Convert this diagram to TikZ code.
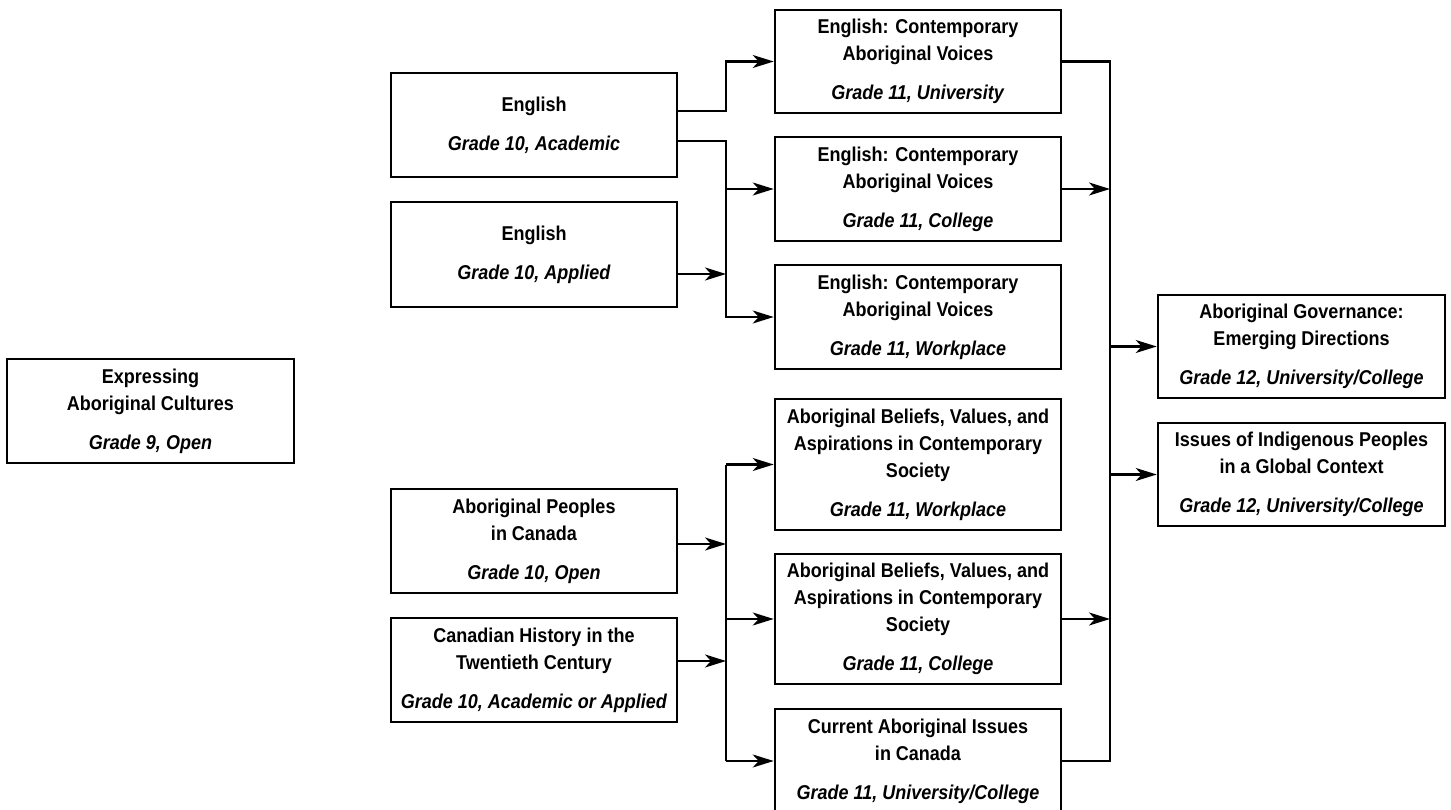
\documentclass[tikz,border=0pt]{standalone}
\usepackage{fontspec}
\setmainfont{Liberation Sans}[FakeStretch=0.9]
\usetikzlibrary{arrows.meta}
\begin{document}
\begin{tikzpicture}[x=1pt,y=-1pt,
  box/.style={draw, line width=2.6pt, align=center, inner sep=0pt, anchor=center,
    font=\fontsize{20}{27}\selectfont\bfseries},
  colA/.style={box, minimum width=286pt},
  conn/.style={line width=2.3pt},
  arr/.style={line width=2.3pt, -{Stealth[length=21pt,width=13pt,inset=6pt]}}]
\useasboundingbox (0,0) rectangle (1451,810);
\node[box, minimum width=287pt, minimum height=104pt] (exp) at (150.5,411)
  {Expressing\\Aboriginal Cultures\\[12pt]\textit{Grade 9, Open}};
\node[colA, minimum height=104pt] (engA) at (534,125)
  {English\\[12pt]\textit{Grade 10, Academic}};
\node[colA, minimum height=105pt] (engP) at (534,254.5)
  {English\\[12pt]\textit{Grade 10, Applied}};
\node[colA, minimum height=104pt] (abp) at (534,541)
  {Aboriginal Peoples\\in Canada\\[12pt]\textit{Grade 10, Open}};
\node[colA, minimum height=104pt] (chist) at (534,670)
  {Canadian History in the\\Twentieth Century\\[12pt]\textit{Grade 10, Academic or Applied}};
\node[colA, minimum height=103pt] (eavU) at (918,61.5)
  {English: Contemporary\\Aboriginal Voices\\[12pt]\textit{Grade 11, University}};
\node[colA, minimum height=104pt] (eavC) at (918,189)
  {English: Contemporary\\Aboriginal Voices\\[12pt]\textit{Grade 11, College}};
\node[colA, minimum height=104pt] (eavW) at (918,317)
  {English: Contemporary\\Aboriginal Voices\\[12pt]\textit{Grade 11, Workplace}};
\node[colA, minimum height=131pt] (abvW) at (918,464.5)
  {Aboriginal Beliefs, Values, and\\Aspirations in Contemporary\\Society\\[12pt]\textit{Grade 11, Workplace}};
\node[colA, minimum height=130pt] (abvC) at (918,619)
  {Aboriginal Beliefs, Values, and\\Aspirations in Contemporary\\Society\\[12pt]\textit{Grade 11, College}};
\node[colA, minimum height=104pt] (cai) at (918,761)
  {Current Aboriginal Issues\\in Canada\\[12pt]\textit{Grade 11, University/College}};
\node[box, minimum width=287pt, minimum height=103pt] (gov) at (1301.5,346.5)
  {Aboriginal Governance:\\Emerging Directions\\[12pt]\textit{Grade 12, University/College}};
\node[box, minimum width=287pt, minimum height=103pt] (iss) at (1301.5,474.5)
  {Issues of Indigenous Peoples\\in a Global Context\\[12pt]\textit{Grade 12, University/College}};
% buses
\coordinate (bL) at (726,0);
\coordinate (bR) at (1110,0);
% upper left
\draw[arr] ([yshift=14pt]engA.east) -| (eavU.west -| bL) -- (eavU.west);
\draw[arr] ([yshift=-16pt]engA.east) -| (eavW.west -| bL) -- (eavW.west);
\draw[arr] (eavC.west -| bL) -- (eavC.west);
\draw[arr] ([yshift=-19.5pt]engP.east) coordinate (p1) -- (p1 -| bL);
% lower left
\draw[conn] (abvW.west -| bL) -- (cai.west -| bL);
\draw[arr] (abvW.west -| bL) -- (abvW.west);
\draw[arr] (abvC.west -| bL) -- (abvC.west);
\draw[arr] (cai.west -| bL) -- (cai.west);
\draw[arr] ([yshift=-3pt]abp.east) coordinate (p2) -- (p2 -| bL);
\draw[arr] ([yshift=9pt]chist.east) coordinate (p3) -- (p3 -| bL);
% right
\draw[conn] (eavU.east) -- (eavU.east -| bR) -- (cai.east -| bR) -- (cai.east);
\draw[arr] (eavC.east) -- (eavC.east -| bR);
\draw[arr] (abvC.east) -- (abvC.east -| bR);
\draw[arr] (gov.west -| bR) -- (gov.west);
\draw[arr] (iss.west -| bR) -- (iss.west);
\end{tikzpicture}
\end{document}
